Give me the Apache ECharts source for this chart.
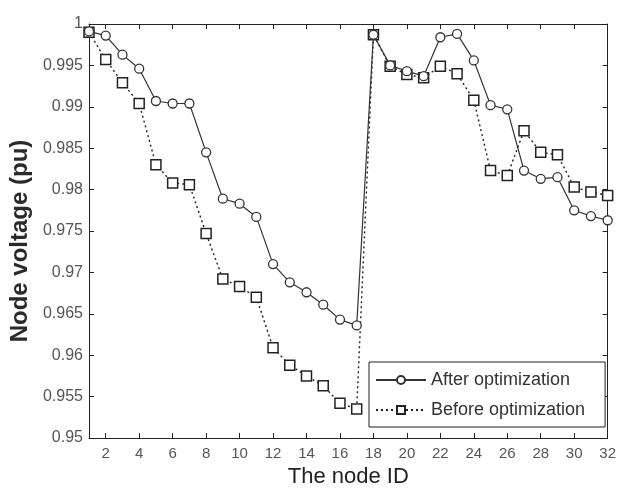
<!DOCTYPE html>
<html>
<head>
<meta charset="utf-8">
<script src="https://cdn.jsdelivr.net/npm/echarts@6/dist/echarts.min.js"></script>
<style>
  html, body { margin: 0; padding: 0; background: #fff; }
  #chart { width: 619px; height: 493px; }
</style>
</head>
<body>
<div id="chart"></div>
<script>
// node ids 1..32
var nodeIds = [1, 2, 3, 4, 5, 6, 7, 8, 9, 10, 11, 12, 13, 14, 15, 16,
               17, 18, 19, 20, 21, 22, 23, 24, 25, 26, 27, 28, 29, 30, 31, 32];

// voltage after optimization (circles, solid)
var afterOpt = [0.9991, 0.9986, 0.9963, 0.9946, 0.9907, 0.9904, 0.9904, 0.9845,
                0.9789, 0.9783, 0.9767, 0.9710, 0.9688, 0.9676, 0.9661, 0.9643,
                0.9636, 0.9987, 0.9950, 0.9943, 0.9937, 0.9984, 0.9988, 0.9956,
                0.9902, 0.9897, 0.9823, 0.9813, 0.9815, 0.9775, 0.9768, 0.9763];

// voltage before optimization (squares, dotted)
var beforeOpt = [0.9990, 0.9957, 0.9929, 0.9904, 0.9830, 0.9808, 0.9806, 0.9747,
                 0.9692, 0.9683, 0.9670, 0.9609, 0.9588, 0.9575, 0.9563, 0.9542,
                 0.9535, 0.9987, 0.9949, 0.9939, 0.9935, 0.9949, 0.9940, 0.9908,
                 0.9823, 0.9817, 0.9871, 0.9845, 0.9842, 0.9803, 0.9797, 0.9793];

var xTicks = [2, 4, 6, 8, 10, 12, 14, 16, 18, 20, 22, 24, 26, 28, 30, 32];
var yTickLabels = ['0.95', '0.955', '0.96', '0.965', '0.97', '0.975',
                   '0.98', '0.985', '0.99', '0.995', '1'];

function pairs(ys) {
  var out = [];
  for (var i = 0; i < nodeIds.length; i++) out.push([nodeIds[i], ys[i]]);
  return out;
}

function merge(a, b) {
  var o = {};
  for (var k in a) o[k] = a[k];
  for (var j in b) o[j] = b[j];
  return o;
}

var myChart = echarts.init(document.getElementById('chart'));

var tickStyle = { show: true, inside: true, length: 5, lineStyle: { color: '#222' } };
var axisLine = { show: true, onZero: false, lineStyle: { color: '#222', width: 1 } };

var option = {
  backgroundColor: '#fff',
  animation: false,
  textStyle: { fontFamily: 'Liberation Sans, Arial, sans-serif' },
  grid: { left: 86, right: 11, top: 24, bottom: 54, containLabel: false },
  legend: {
    orient: 'vertical',
    left: 369,
    top: 362,
    padding: [9, 20, 8, 6],
    itemGap: 12,
    itemWidth: 50,
    itemHeight: 10,
    backgroundColor: '#fff',
    borderColor: '#222',
    borderWidth: 1,
    textStyle: { fontSize: 18, color: '#333' },
    data: ['After optimization', 'Before optimization']
  },
  xAxis: [{
    type: 'value',
    min: 1,
    max: 32,
    name: 'The node ID',
    nameLocation: 'middle',
    nameGap: 28,
    nameTextStyle: { fontSize: 22, color: '#222' },
    axisLine: axisLine,
    axisTick: merge(tickStyle, { customValues: xTicks }),
    axisLabel: { customValues: xTicks, color: '#555', fontSize: 15, margin: 8 },
    splitLine: { show: false }
  }, {
    type: 'value',
    position: 'top',
    min: 1,
    max: 32,
    axisLine: axisLine,
    axisTick: merge(tickStyle, { customValues: xTicks }),
    axisLabel: { show: false },
    splitLine: { show: false }
  }],
  yAxis: [{
    type: 'value',
    min: 0.95,
    max: 1,
    interval: 0.005,
    name: 'Node voltage (pu)',
    nameLocation: 'middle',
    nameGap: 57,
    nameTextStyle: { fontSize: 24, fontWeight: 'bold', color: '#2a2a2a', padding: [0, 20, 0, 0] },
    axisLine: axisLine,
    axisTick: tickStyle,
    axisLabel: {
      color: '#555', fontSize: 16, margin: 6,
      formatter: function (v) {
        var idx = Math.round((v - 0.95) / 0.005);
        return yTickLabels[idx];
      }
    },
    splitLine: { show: false }
  }, {
    type: 'value',
    position: 'right',
    min: 0.95,
    max: 1,
    interval: 0.005,
    axisLine: axisLine,
    axisTick: tickStyle,
    axisLabel: { show: false },
    splitLine: { show: false }
  }],
  series: [{
    name: 'After optimization',
    type: 'line',
    data: pairs(afterOpt),
    symbol: 'circle',
    symbolSize: 9,
    itemStyle: { color: '#fff', borderColor: '#333', borderWidth: 1.3 },
    lineStyle: { color: '#333', width: 1.2, type: 'solid' },
    z: 3
  }, {
    name: 'Before optimization',
    type: 'line',
    data: pairs(beforeOpt),
    symbol: 'rect',
    symbolSize: 10,
    itemStyle: { color: '#fff', borderColor: '#222', borderWidth: 1.5 },
    lineStyle: { color: '#222', width: 1.4, type: [2, 3] },
    z: 2
  }]
};

myChart.setOption(option);
</script>
</body>
</html>
